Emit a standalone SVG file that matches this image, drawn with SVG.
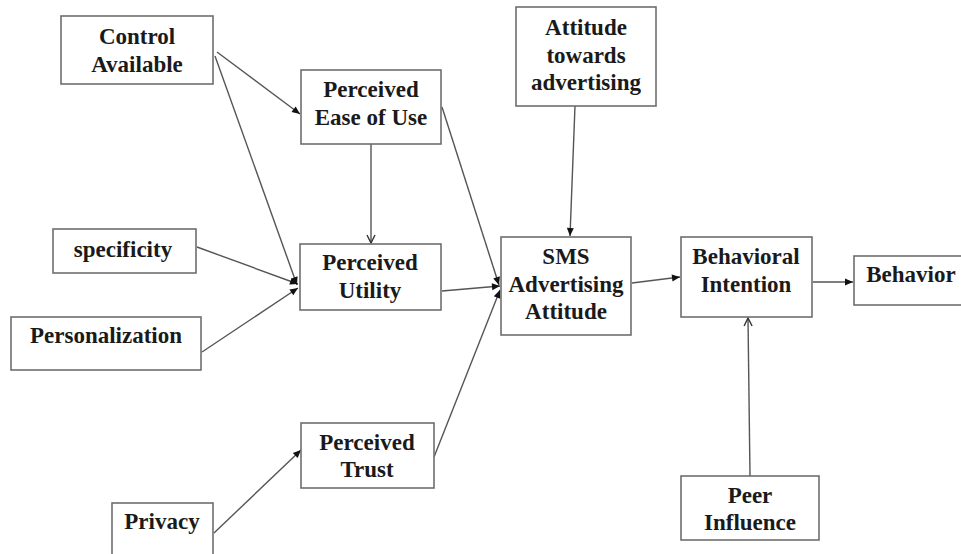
<svg xmlns="http://www.w3.org/2000/svg" width="961" height="554" viewBox="0 0 961 554">
<defs>
<style>
.box{fill:#fff;stroke:#6e6e6e;stroke-width:1.6}
.lbl{font-family:"Liberation Serif","Times New Roman",serif;font-weight:bold;font-size:23px;fill:#1a1a1a;text-anchor:middle}
.ln{fill:none;stroke:#555;stroke-width:1.4}
.arr{marker-end:url(#tri)}
.open{marker-end:url(#vee)}
</style>
<marker id="tri" markerUnits="userSpaceOnUse" markerWidth="10" markerHeight="10" viewBox="0 0 10 10" refX="9" refY="5" orient="auto">
<path d="M1,1.5 L9,5 L1,8.5 Z" fill="#111"/>
</marker>
<marker id="vee" markerUnits="userSpaceOnUse" markerWidth="10" markerHeight="10" viewBox="0 0 10 10" refX="9" refY="5" orient="auto">
<path d="M1,1 L9,5 L1,9" fill="none" stroke="#333" stroke-width="1.4"/>
</marker>
</defs>
<rect width="961" height="554" fill="#fff"/>
<g id="connectors">
<line class="ln arr" x1="217" y1="52" x2="300" y2="114"/>
<line class="ln arr" x1="215" y1="56" x2="297" y2="285"/>
<line class="ln open" x1="371" y1="144" x2="371" y2="243"/>
<line class="ln arr" x1="442" y1="107" x2="499" y2="285"/>
<line class="ln arr" x1="197" y1="247" x2="298" y2="284"/>
<line class="ln arr" x1="202" y1="352" x2="298" y2="288"/>
<line class="ln arr" x1="442" y1="291" x2="500" y2="286"/>
<line class="ln arr" x1="434" y1="457" x2="500" y2="290"/>
<line class="ln arr" x1="214" y1="533" x2="301" y2="450"/>
<line class="ln arr" x1="575" y1="106" x2="570" y2="236"/>
<line class="ln arr" x1="632" y1="283" x2="680" y2="277"/>
<line class="ln arr" x1="813" y1="282" x2="853" y2="282"/>
<line class="ln open" x1="750" y1="476" x2="748" y2="318"/>
</g>
<g id="control-available">
<rect class="box" x="61" y="16" width="152" height="68"/>
<text class="lbl" x="137" y="44">Control</text>
<text class="lbl" x="137" y="72">Available</text>
</g>
<g id="perceived-ease-of-use">
<rect class="box" x="301" y="70" width="140" height="74"/>
<text class="lbl" x="371" y="97">Perceived</text>
<text class="lbl" x="371" y="125">Ease of Use</text>
</g>
<g id="attitude-towards-advertising">
<rect class="box" x="516" y="7" width="140" height="99"/>
<text class="lbl" x="586" y="35">Attitude</text>
<text class="lbl" x="586" y="63">towards</text>
<text class="lbl" x="586" y="90">advertising</text>
</g>
<g id="specificity">
<rect class="box" x="53" y="229" width="143" height="44"/>
<text class="lbl" x="123" y="257">specificity</text>
</g>
<g id="personalization">
<rect class="box" x="11" y="317" width="190" height="53"/>
<text class="lbl" x="106" y="343">Personalization</text>
</g>
<g id="perceived-utility">
<rect class="box" x="300" y="244" width="141" height="66"/>
<text class="lbl" x="370" y="270">Perceived</text>
<text class="lbl" x="370" y="298">Utility</text>
</g>
<g id="sms-advertising-attitude">
<rect class="box" x="501" y="237" width="130" height="98"/>
<text class="lbl" x="566" y="264">SMS</text>
<text class="lbl" x="566" y="292">Advertising</text>
<text class="lbl" x="566" y="319">Attitude</text>
</g>
<g id="behavioral-intention">
<rect class="box" x="681" y="237" width="131" height="80"/>
<text class="lbl" x="746" y="264">Behavioral</text>
<text class="lbl" x="746" y="292">Intention</text>
</g>
<g id="behavior">
<rect class="box" x="854" y="256" width="112" height="49"/>
<text class="lbl" x="911" y="282">Behavior</text>
</g>
<g id="perceived-trust">
<rect class="box" x="301" y="423" width="133" height="65"/>
<text class="lbl" x="367" y="450">Perceived</text>
<text class="lbl" x="367" y="477">Trust</text>
</g>
<g id="privacy">
<rect class="box" x="112" y="503" width="101" height="60"/>
<text class="lbl" x="162" y="529">Privacy</text>
</g>
<g id="peer-influence">
<rect class="box" x="681" y="476" width="138" height="64"/>
<text class="lbl" x="750" y="503">Peer</text>
<text class="lbl" x="750" y="530">Influence</text>
</g>
</svg>
